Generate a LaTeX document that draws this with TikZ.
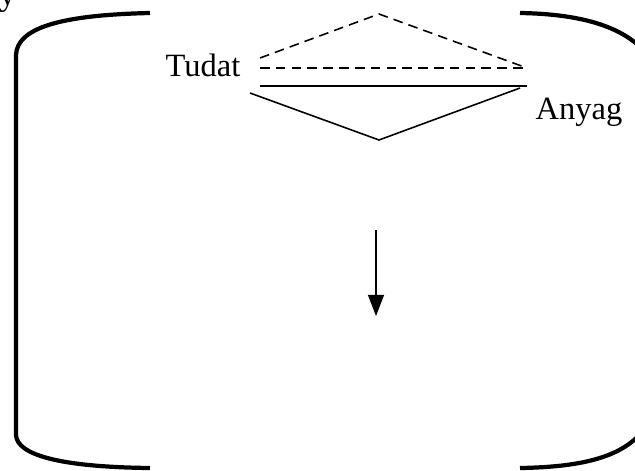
\documentclass[tikz,border=0pt]{standalone}
\usepackage{fontspec}
\setmainfont{Liberation Serif}
\usetikzlibrary{arrows.meta}

\begin{document}
\begin{tikzpicture}[x=0.02cm,y=-0.02cm]
\clip (0,0) rectangle (635,470);
\useasboundingbox (0,0) rectangle (635,470);
% side brackets
\draw[line width=2.4pt] (150,13) .. controls (60,15) and (17,28) .. (16,55) -- (16,435) .. controls (17,455) and (60,467) .. (150,468);
\draw[line width=2.4pt] (520,13) .. controls (580,14) and (622,26) .. (645,52);
\draw[line width=2.4pt] (520,468) .. controls (585,467) and (625,456) .. (645,428);
% upper (dashed) triangle
\draw[dash pattern=on 5.5pt off 3.5pt,line width=0.9pt] (260,58) -- (379,14) -- (527,68);
\draw[dash pattern=on 5.5pt off 3.5pt,line width=0.9pt] (260,68) -- (527,68);
% lower (solid) triangle
\draw[line width=0.9pt] (260,86) -- (527,86);
\draw[line width=0.9pt] (250,93) -- (379,140) -- (520,88);
% labels
\node[font=\fontsize{18.5}{22}\selectfont] (tudat) at (203,65) {Tudat};
\node[font=\fontsize{18.5}{22}\selectfont] (anyag) at (579,112) {Anyag};
\node[font=\fontsize{18.5}{22}\selectfont,anchor=north west,inner sep=0pt] (cut) at (-1,-10) {y};
% arrow
\coordinate (top) at (376,230);
\coordinate (bot) at (376,316);
\draw[line width=1.1pt,-{Triangle[length=12pt,width=9pt]}] (top) -- (bot);
\end{tikzpicture}
\end{document}
